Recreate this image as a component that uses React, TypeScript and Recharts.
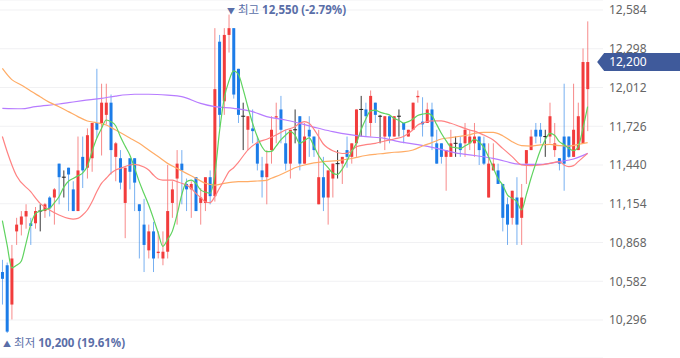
import React from 'react';
import { ComposedChart, Bar, Line, XAxis, YAxis, CartesianGrid, ReferenceDot } from 'recharts';

// daily OHLC, oldest first (red = up, blue = down, black = unchanged)
const opens = [
  10650, 10700, 10410, 10950, 11000, 11060, 11010, 11010, 11100, 11100, 11200, 11200, 11450, 11350, 11420, 11260, 11100, 11500, 11420, 11490,
  11750, 11750, 11810, 11900, 11500, 11490, 11160, 11490, 11490, 11150, 11000, 10810, 10950, 10790, 10750, 10800, 11160, 11340, 11450, 11300,
  11260, 11350, 11160, 11160, 11350, 11210, 12350, 11910, 12400, 12450, 12150, 11800, 11700, 11710, 11600, 11400, 11350, 11550, 11790, 11850,
  11600, 11450, 11700, 11800, 11450, 11700, 11650, 11150, 11350, 11200, 11340, 11450, 11450, 11550, 11500, 11600, 11850, 11850, 11750, 11900,
  11800, 11650, 11800, 11650, 11800, 11750, 11650, 11700, 11940, 11760, 11750, 11850, 11600, 11600, 11500, 11500, 11600, 11600, 11600, 11600,
  11600, 11650, 11600, 11200, 11400, 11400, 11300, 11150, 11050, 11200, 11050, 11450, 11550, 11700, 11700, 11650, 11650, 11550, 11490, 11650,
  11650, 11500, 11550, 11600, 12000,
];
const highs = [
  10740, 10720, 10850, 11050, 11100, 11150, 11050, 11130, 11150, 11160, 11210, 11270, 11450, 11400, 11420, 11320, 11650, 11650, 11710, 11750,
  12150, 12040, 12040, 11960, 11610, 11550, 11420, 11490, 11490, 11150, 11190, 11000, 11020, 10950, 10950, 11440, 11320, 11550, 11550, 11340,
  11320, 11350, 11270, 11350, 11400, 12450, 12400, 12450, 12550, 12450, 12150, 11900, 11800, 11850, 11650, 11500, 11550, 11800, 11900, 11950,
  11700, 11700, 11850, 11800, 11750, 11800, 11650, 11700, 11500, 11400, 11450, 11550, 11500, 11650, 11600, 11850, 11950, 11900, 11990, 11900,
  11810, 11800, 11800, 11800, 11850, 11750, 11700, 11900, 11990, 11940, 11900, 11900, 11700, 11600, 11550, 11700, 11650, 11650, 11750, 11700,
  11750, 11650, 11650, 11600, 11600, 11450, 11300, 11200, 11250, 11350, 11300, 11550, 11700, 11750, 11750, 11700, 11900, 11750, 11490, 12040,
  11650, 12040, 11900, 12300, 12500,
];
const lows = [
  10410, 10200, 10300, 10850, 10920, 10970, 10850, 10970, 10950, 11050, 11060, 11000, 11150, 11200, 11100, 11100, 11100, 11270, 11340, 11390,
  11640, 11510, 11740, 11370, 11320, 11260, 10900, 11260, 11100, 10750, 10650, 10750, 10650, 10750, 10700, 10750, 11050, 11000, 11150, 11100,
  11050, 11100, 11000, 11100, 11150, 11170, 11720, 11810, 12270, 11930, 11750, 11550, 11550, 11600, 11400, 11200, 11150, 11450, 11600, 11600,
  11400, 11340, 11600, 11400, 11450, 11500, 11500, 11150, 11100, 11000, 11200, 11340, 11300, 11420, 11450, 11500, 11650, 11650, 11650, 11750,
  11600, 11550, 11600, 11650, 11650, 11600, 11650, 11700, 11900, 11650, 11750, 11550, 11450, 11450, 11250, 11500, 11500, 11500, 11500, 11550,
  11500, 11440, 11440, 11200, 11400, 11300, 10950, 10850, 11000, 10850, 10850, 11300, 11550, 11600, 11600, 11500, 11600, 11500, 11400, 11250,
  11490, 11500, 11550, 11600, 11690,
];
const closes = [
  10600, 10210, 10750, 11000, 11060, 11100, 10990, 11100, 11100, 11150, 11120, 11260, 11350, 11350, 11370, 11100, 11400, 11400, 11660, 11750,
  11700, 11900, 11900, 11550, 11600, 11310, 11420, 11390, 11310, 11100, 10850, 10950, 10750, 10800, 10800, 11100, 11260, 11450, 11400, 11260,
  11300, 11100, 11200, 11350, 11210, 12000, 11810, 12400, 12450, 11960, 11810, 11800, 11800, 11690, 11450, 11350, 11450, 11700, 11800, 11700,
  11450, 11700, 11700, 11450, 11650, 11650, 11550, 11350, 11200, 11400, 11450, 11450, 11500, 11500, 11600, 11850, 11850, 11800, 11950, 11810,
  11800, 11800, 11650, 11800, 11800, 11700, 11700, 11900, 11950, 11740, 11850, 11650, 11450, 11500, 11550, 11600, 11600, 11550, 11700, 11650,
  11650, 11550, 11450, 11450, 11450, 11300, 11050, 11000, 11250, 11000, 11200, 11550, 11650, 11650, 11650, 11650, 11800, 11600, 11450, 11450,
  11500, 11700, 11800, 12200, 12200,
];

// moving averages: 5-day on every day, the slower ones as [day, value] samples
const ma5 = [
  11030, 10850, 10680, 10700, 10730, 10860, 11000, 11080, 11100, 11110, 11120, 11160, 11206, 11275, 11320, 11340, 11360, 11380, 11430, 11540,
  11637, 11710, 11772, 11760, 11730, 11650, 11580, 11514, 11420, 11317, 11230, 11145, 11046, 10940, 10840, 10890, 10950, 11071, 11219, 11317,
  11329, 11305, 11256, 11240, 11231, 11366, 11686, 11932, 12060, 12135, 12110, 12000, 11870, 11750, 11650, 11575, 11538, 11540, 11580, 11625,
  11660, 11686, 11660, 11600, 11620, 11640, 11580, 11510, 11460, 11420, 11380, 11370, 11410, 11470, 11540, 11600, 11700, 11780, 11840, 11845,
  11830, 11820, 11810, 11784, 11770, 11750, 11760, 11780, 11805, 11815, 11821, 11805, 11740, 11674, 11620, 11575, 11568, 11563, 11580, 11600,
  11630, 11610, 11570, 11500, 11420, 11340, 11292, 11220, 11194, 11170, 11108, 11220, 11342, 11450, 11550, 11625, 11674, 11660, 11612, 11590,
  11563, 11545, 11575, 11710, 11870,
];
const ma20 = [
  [0, 11650], [1, 11540], [3, 11360], [6, 11243], [8, 11157], [10, 11108], [12, 11071], [14, 11046], [15, 11041], [16, 11046],
  [17, 11071], [18, 11108], [19, 11169], [20, 11243], [21, 11305], [22, 11342], [23, 11379], [24, 11403], [25, 11415], [27, 11440],
  [28, 11445], [30, 11425], [31, 11403], [32, 11366], [33, 11337], [34, 11329], [36, 11329], [37, 11317], [38, 11305], [39, 11292],
  [40, 11268], [41, 11231], [42, 11200], [43, 11169], [44, 11162], [45, 11206], [46, 11268], [47, 11329], [48, 11391], [49, 11420],
  [50, 11460], [52, 11550], [54, 11605], [56, 11630], [58, 11661], [60, 11698], [62, 11723], [63, 11748], [64, 11760], [65, 11748],
  [66, 11705], [67, 11650], [68, 11595], [69, 11565], [70, 11545], [72, 11525], [73, 11526], [74, 11545], [75, 11575], [77, 11590],
  [79, 11600], [81, 11617], [83, 11632], [85, 11650], [87, 11700], [88, 11735], [89, 11750], [91, 11765], [93, 11765], [95, 11748],
  [97, 11723], [99, 11698], [100, 11690], [102, 11661], [104, 11624], [106, 11563], [108, 11502], [110, 11440], [112, 11435], [114, 11440],
  [116, 11452], [118, 11465], [119, 11440], [120, 11428], [121, 11435], [122, 11465], [124, 11526],
];
const ma60 = [
  [0, 12153], [2, 12070], [4, 12030], [6, 11986], [8, 11944], [10, 11902], [12, 11870], [14, 11834], [16, 11797], [18, 11765],
  [20, 11752], [22, 11735], [24, 11698], [27, 11640], [29, 11600], [31, 11551], [33, 11502], [35, 11452], [37, 11415], [39, 11378],
  [41, 11342], [43, 11305], [45, 11292], [47, 11305], [50, 11317], [52, 11318], [54, 11322], [56, 11327], [57, 11342], [59, 11370],
  [61, 11403], [62, 11420], [64, 11440], [66, 11455], [68, 11465], [71, 11472], [74, 11488], [77, 11510], [79, 11519], [81, 11526],
  [83, 11534], [85, 11538], [87, 11551], [89, 11580], [91, 11605], [93, 11632], [95, 11642], [97, 11652], [99, 11663], [100, 11674],
  [102, 11681], [104, 11681], [106, 11656], [108, 11612], [110, 11583], [112, 11580], [114, 11588], [116, 11592], [118, 11583], [120, 11580],
  [122, 11592], [124, 11605],
];
const ma120 = [
  [0, 11858], [4, 11855], [7, 11871], [12, 11890], [14, 11900], [17, 11915], [21, 11932], [24, 11949], [28, 11962], [31, 11962],
  [35, 11955], [38, 11944], [42, 11895], [45, 11871], [49, 11858], [53, 11834], [56, 11797], [60, 11772], [63, 11747], [67, 11711],
  [70, 11686], [74, 11662], [77, 11649], [81, 11637], [84, 11612], [88, 11590], [92, 11563], [96, 11530], [100, 11510], [104, 11489],
  [110, 11445], [114, 11445], [118, 11465], [121, 11484], [124, 11526],
];

const priceTicks = [10296, 10582, 10868, 11154, 11440, 11726, 12012, 12298, 12584];
const highText = '12,550 (-2.79%)';
const lowText = '10,200 (19.61%)';

const UP = '#f23c3c';
const DOWN = '#1c7ce8';
const FLAT = '#222222';
const FONT = "'Noto Sans', 'Noto Sans CJK KR', sans-serif";

const fromSamples = (pairs: number[][]) => {
  const m = new Map<number, number>();
  pairs.forEach(([k, v]) => m.set(k, v));
  return m;
};
const ma20Map = fromSamples(ma20);
const ma60Map = fromSamples(ma60);
const ma120Map = fromSamples(ma120);

const data = closes.map((c, i) => ({
  i,
  open: opens[i],
  high: highs[i],
  low: lows[i],
  close: c,
  range: [lows[i], highs[i]],
  ma5: ma5[i],
  ma20: ma20Map.has(i) ? ma20Map.get(i) : null,
  ma60: ma60Map.has(i) ? ma60Map.get(i) : null,
  ma120: ma120Map.has(i) ? ma120Map.get(i) : null,
}));

const lastIdx = data.length - 1;
const hiIdx = highs.indexOf(Math.max(...highs));
const loIdx = lows.indexOf(Math.min(...lows));

const Candle = (props: any) => {
  const { x, y, width, height, payload } = props;
  if (x == null || y == null) return null;
  const { open, close, high, low } = payload;
  const top = Math.min(y, y + height);
  const h = Math.abs(height);
  const py = (v: number) => top + ((high - v) / (high - low || 1)) * h;
  const cx = x + width / 2;
  const color = close > open ? UP : close < open ? DOWN : FLAT;
  const yo = py(open);
  const yc = py(close);
  const bodyTop = Math.min(yo, yc);
  const bodyH = Math.max(Math.abs(yo - yc), 1);
  return (
    <g>
      <line x1={cx} x2={cx} y1={top} y2={top + h} stroke={color} strokeWidth={1} strokeOpacity={close === open ? 0.9 : 0.6} />
      {close === open ? (
        <rect x={cx - 2} y={bodyTop - 0.5} width={4} height={1} fill={color} />
      ) : (
        <rect x={cx - 1.5} y={bodyTop} width={3} height={bodyH} fill={color} />
      )}
    </g>
  );
};

const HighLabel = (props: any) => (
  <text x={props.cx - 2} y={props.cy - 1} fontFamily={FONT} fontSize={11.5} fill="#5a6ea8">
    <tspan fontSize={8}>▼</tspan>
    <tspan dx={3}>최고</tspan>
    <tspan dx={3} fontWeight="bold">{highText}</tspan>
  </text>
);

const LowLabel = (props: any) => (
  <text x={props.cx - 4} y={props.cy + 14} fontFamily={FONT} fontSize={11.5} fill="#5a6ea8">
    <tspan fontSize={8}>▲</tspan>
    <tspan dx={3}>최저</tspan>
    <tspan dx={3} fontWeight="bold">{lowText}</tspan>
  </text>
);

const PriceTag = (props: any) => {
  const { cx, cy } = props;
  const left = cx + 9.5;
  return (
    <g>
      <polygon
        points={`${left},${cy} ${left + 7},${cy - 9} 680,${cy - 9} 680,${cy + 9} ${left + 7},${cy + 9}`}
        fill="#3f5a9b"
      />
      <text x={left + 12} y={cy + 4} fontFamily={FONT} fontSize={12} fill="#ffffff">
        {closes[lastIdx].toLocaleString('en-US')}
      </text>
    </g>
  );
};

export default function App() {
  return (
    <div style={{ position: 'absolute', left: 0, top: 0, width: 680, height: 358, background: '#fff' }}>
      <ComposedChart width={680} height={358} data={data} margin={{ top: 0, right: 0, bottom: 0, left: 0 }}>
        <CartesianGrid vertical={false} stroke="#f1f1f3" />
        <XAxis dataKey="i" hide padding={{ left: 0, right: 13 }} />
        <YAxis
          orientation="right"
          width={77}
          domain={[10015.5, 12657.8]}
          allowDataOverflow
          ticks={priceTicks}
          axisLine={false}
          tickLine={false}
          tickSize={6}
          tickMargin={0}
          tick={{ fill: '#666666', fontSize: 12, fontFamily: FONT }}
          tickFormatter={(v: number) => v.toLocaleString('en-US')}
        />
        <Bar dataKey="range" shape={Candle} isAnimationActive={false} />
        <Line dataKey="ma120" type="monotone" stroke="#b77cff" strokeWidth={1.2} dot={false} activeDot={false} connectNulls isAnimationActive={false} />
        <Line dataKey="ma60" type="monotone" stroke="#ffac66" strokeWidth={1.2} dot={false} activeDot={false} connectNulls isAnimationActive={false} />
        <Line dataKey="ma20" type="monotone" stroke="#ff8282" strokeWidth={1.2} dot={false} activeDot={false} connectNulls isAnimationActive={false} />
        <Line dataKey="ma5" type="monotone" stroke="#5fd35f" strokeWidth={1.2} dot={false} activeDot={false} isAnimationActive={false} />
        <ReferenceDot x={hiIdx} y={highs[hiIdx]} shape={HighLabel} />
        <ReferenceDot x={loIdx} y={lows[loIdx]} shape={LowLabel} />
        <ReferenceDot x={lastIdx} y={closes[lastIdx]} shape={PriceTag} />
      </ComposedChart>
    </div>
  );
}
